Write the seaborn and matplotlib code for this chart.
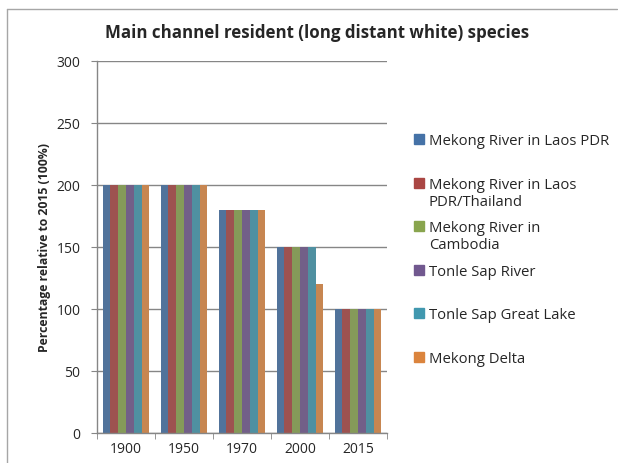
#!/usr/bin/env python3
import matplotlib
matplotlib.use("Agg")
import matplotlib.pyplot as plt
from matplotlib.patches import Rectangle
import pandas as pd
import seaborn as sns

years = ["1900", "1950", "1970", "2000", "2015"]
regions = ["Mekong River in Laos PDR", "Mekong River in Laos PDR/Thailand",
           "Mekong River in Cambodia", "Tonle Sap River",
           "Tonle Sap Great Lake", "Mekong Delta"]
legend_labels = ["Mekong River in Laos PDR", "Mekong River in Laos\nPDR/Thailand",
                 "Mekong River in\nCambodia", "Tonle Sap River",
                 "Tonle Sap Great Lake", "Mekong Delta"]
laos = [200, 200, 180, 150, 100]
laos_thai = [200, 200, 180, 150, 100]
cambodia = [200, 200, 180, 150, 100]
tonle_river = [200, 200, 180, 150, 100]
tonle_lake = [200, 200, 180, 150, 100]
delta = [200, 200, 180, 120, 100]
colors = ["#4572A7", "#AA4643", "#89A54E", "#71588F", "#4198AF", "#DB843D"]

series = [laos, laos_thai, cambodia, tonle_river, tonle_lake, delta]
rows = []
for name, vals in zip(regions, series):
    for y, v in zip(years, vals):
        rows.append({"year": y, "region": name, "value": v})
df = pd.DataFrame(rows)

sns.set_style("white")
plt.rcParams['font.family'] = ['Open Sans', 'DejaVu Sans']

W, H = 618, 464
fig = plt.figure(figsize=(W / 100, H / 100), dpi=100)
ax = fig.add_axes([97 / W, (H - 434) / H, 290 / W, 372 / H])

sns.barplot(data=df, x="year", y="value", hue="region", order=years,
            hue_order=regions, palette=colors, width=0.81, linewidth=0,
            legend=False, ax=ax)

grey = "#868686"
ax.set_ylim(0, 300)
ax.set_xlim(-0.5, 4.5)
ax.set_yticks(range(0, 301, 50))
ax.yaxis.grid(True, color=grey, linewidth=1)
ax.set_axisbelow(True)
for s in ["top", "right"]:
    ax.spines[s].set_visible(False)
for s in ["left", "bottom"]:
    ax.spines[s].set_color(grey)
    ax.spines[s].set_linewidth(1)
ax.tick_params(axis="y", length=4, color=grey, labelsize=10, pad=8, left=True)
ax.tick_params(axis="x", length=0, labelsize=10, pad=6)
ax.set_xticks([i + 0.5 for i in range(-1, 5)], minor=True)
ax.tick_params(axis="x", which="minor", length=4, color=grey, bottom=True)
ax.set_xlabel("")
ax.set_ylabel("Percentage relative to 2015 (100%)", fontsize=8.8,
              fontweight="bold", labelpad=4)

fig.text(317 / W, 1 - 33 / H, "Main channel resident (long distant white) species",
         ha="center", va="center", fontsize=12.2, fontweight="bold")

# legend drawn Excel-style: squares level with the first text line
for i, (lab, c) in enumerate(zip(legend_labels, colors)):
    yc = 140 + i * 43.6
    fig.patches.append(Rectangle((414 / W, 1 - (yc + 5) / H), 10 / W, 10 / H,
                                 transform=fig.transFigure, color=c))
    fig.text(429 / W, 1 - (yc - 6) / H, lab, ha="left", va="top",
             fontsize=10.7, linespacing=1.2)

# chart border
fig.add_artist(plt.Line2D([7 / W, 7 / W], [0, 1 - 10 / H], color="#a6a6a6",
                          lw=1, transform=fig.transFigure))
fig.add_artist(plt.Line2D([7 / W, 617 / W], [1 - 10 / H, 1 - 10 / H], color="#a6a6a6",
                          lw=1, transform=fig.transFigure))

fig.savefig("out.png", dpi=100)
